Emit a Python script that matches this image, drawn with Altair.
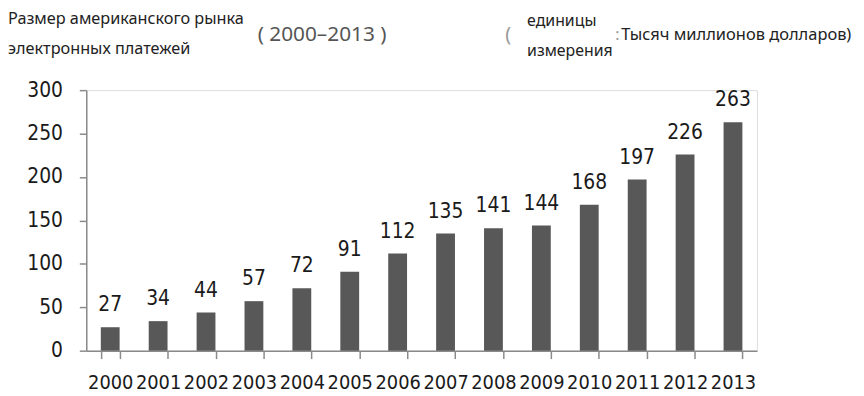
import altair as alt
import pandas as pd

years = ["2000", "2001", "2002", "2003", "2004", "2005", "2006",
         "2007", "2008", "2009", "2010", "2011", "2012", "2013"]
values = [27, 34, 44, 57, 72, 91, 112, 135, 141, 144, 168, 197, 226, 263]
y_ticks = [0, 50, 100, 150, 200, 250, 300]

header_texts = ["Размер американского рынка", "электронных платежей", "( 2000–2013 )",
                "(", "единицы", "измерения", ":", "Тысяч миллионов долларов)"]

df = pd.DataFrame({"year": years, "value": values})

W, H = 677, 263
NUM_FONT = "DejaVu Sans Condensed, Liberation Sans Narrow, Arial Narrow, sans-serif"
TXT_FONT = "Noto Sans"

base = alt.Chart(df)

bars = base.mark_bar(color="#585858", size=19).encode(
    x=alt.X("year:N", sort=years, title=None,
            scale=alt.Scale(paddingInner=0.6, paddingOuter=0.3),
            axis=alt.Axis(labelAngle=0, tickBand="extent", tickSize=8,
                          labelPadding=14, labelFont=NUM_FONT, labelFontSize=20,
                          labelColor="#1a1a1a", domainColor="#8a8a8a",
                          tickColor="#8a8a8a", domainWidth=1.5, tickWidth=1.5)),
    y=alt.Y("value:Q", title=None,
            scale=alt.Scale(domain=[0, 300], nice=False),
            axis=alt.Axis(values=y_ticks, grid=False, tickSize=7, labelPadding=17,
                          labelFont=NUM_FONT, labelFontSize=21, labelColor="#1a1a1a",
                          domainColor="#8a8a8a", tickColor="#8a8a8a",
                          domainWidth=1.5, tickWidth=1.5)),
)

labels = base.mark_text(baseline="bottom", dy=-12, font=NUM_FONT, fontSize=21,
                        color="#1a1a1a").encode(
    x=alt.X("year:N", sort=years),
    y=alt.Y("value:Q"),
    text=alt.Text("value:Q"),
)


def note(text, x, y, size=16, color="#222222", font=TXT_FONT):
    return alt.Chart(pd.DataFrame({"t": [text]})).mark_text(
        align="left", baseline="middle", font=font, fontSize=size, color=color
    ).encode(x=alt.value(x), y=alt.value(y), text="t:N")


notes = [
    note(header_texts[0], -79, -72, size=16.4),
    note(header_texts[1], -79, -41, size=16.4),
    note(header_texts[2], 173, -56, size=21, color="#555555"),
    note(header_texts[3], 423, -56, size=20, color="#999999"),
    note(header_texts[4], 445, -70, size=16),
    note(header_texts[5], 445, -39, size=16),
    note(header_texts[6], 534, -56, size=16, color="#999999"),
    note(header_texts[7], 540, -56, size=16.6),
]

chart = alt.layer(bars, labels, *notes).properties(
    width=W, height=H,
    autosize=alt.AutoSizeParams(type="none"),
    padding={"left": 79, "top": 81, "right": 100, "bottom": 60},
).configure_view(stroke=None).configure(background="white")

chart.save("out.html", embed_options={"renderer": "svg", "actions": False})
